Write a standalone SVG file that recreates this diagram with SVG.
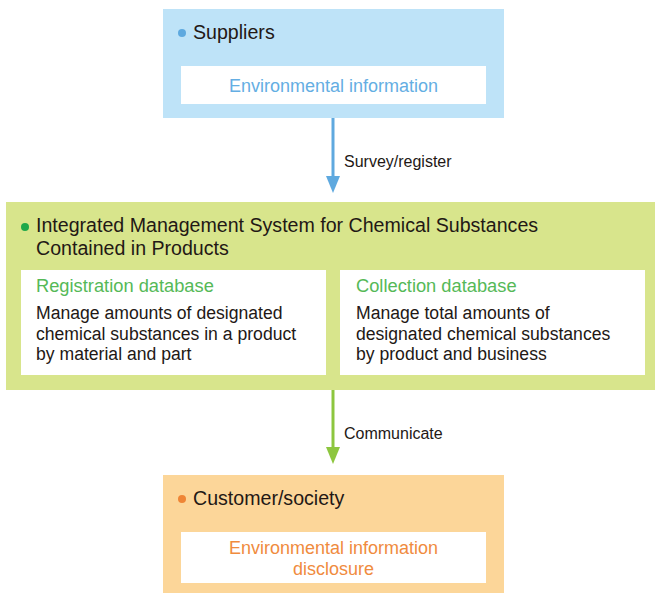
<svg xmlns="http://www.w3.org/2000/svg" width="655" height="593" viewBox="0 0 655 593">
<style>
text{font-family:"Liberation Sans",Arial,sans-serif}
.h{font-size:19.6px;fill:#231815}
.b{font-size:17.6px;fill:#231815}
.s{font-size:18.3px;fill:#55b957}
.lbl{font-size:16px;fill:#231815}
.w{fill:#ffffff}
</style>
<g id="connectors">
<line x1="333" y1="118" x2="333" y2="176" stroke="#5fa9df" stroke-width="3"/>
<path d="M326,176 L340,176 L333,193 Z" fill="#5fa9df"/>
<text class="lbl" x="344" y="167">Survey/register</text>
<line x1="333" y1="389" x2="333" y2="447" stroke="#8dc63f" stroke-width="3"/>
<path d="M326,447 L340,447 L333,464 Z" fill="#8dc63f"/>
<text class="lbl" x="344" y="439">Communicate</text>
</g>
<g id="suppliers">
<rect x="163" y="9" width="341" height="109" fill="#bee3f8"/>
<circle cx="182" cy="33" r="4" fill="#5ea9df"/>
<text class="h" x="193" y="39">Suppliers</text>
<rect class="w" x="181" y="66" width="305" height="38"/>
<text x="333.5" y="92" font-size="18" fill="#64aee3" text-anchor="middle">Environmental information</text>
</g>
<g id="system">
<rect x="6" y="202" width="649" height="188" fill="#d8e58c"/>
<circle cx="25" cy="227" r="4" fill="#1fa84a"/>
<text class="h" x="36" y="232">Integrated Management System for Chemical Substances</text>
<text class="h" x="36" y="254.5">Contained in Products</text>
<g id="registration">
<rect class="w" x="21" y="270" width="305" height="105"/>
<text class="s" x="36" y="292">Registration database</text>
<text class="b" x="36" y="319">Manage amounts of designated</text>
<text class="b" x="36" y="339.5">chemical substances in a product</text>
<text class="b" x="36" y="360">by material and part</text>
</g>
<g id="collection">
<rect class="w" x="340" y="270" width="305" height="105"/>
<text class="s" x="356" y="292">Collection database</text>
<text class="b" x="356" y="319">Manage total amounts of</text>
<text class="b" x="356" y="339.5">designated chemical substances</text>
<text class="b" x="356" y="360">by product and business</text>
</g>
</g>
<g id="customer">
<rect x="163" y="475" width="341" height="118" fill="#fcd699"/>
<circle cx="182" cy="499" r="4" fill="#ef8535"/>
<text class="h" x="193" y="505">Customer/society</text>
<rect class="w" x="181" y="532" width="305" height="51"/>
<text x="333.5" y="553.5" font-size="18" fill="#f08b3e" text-anchor="middle">Environmental information</text>
<text x="333.5" y="574.5" font-size="18" fill="#f08b3e" text-anchor="middle">disclosure</text>
</g>
</svg>
